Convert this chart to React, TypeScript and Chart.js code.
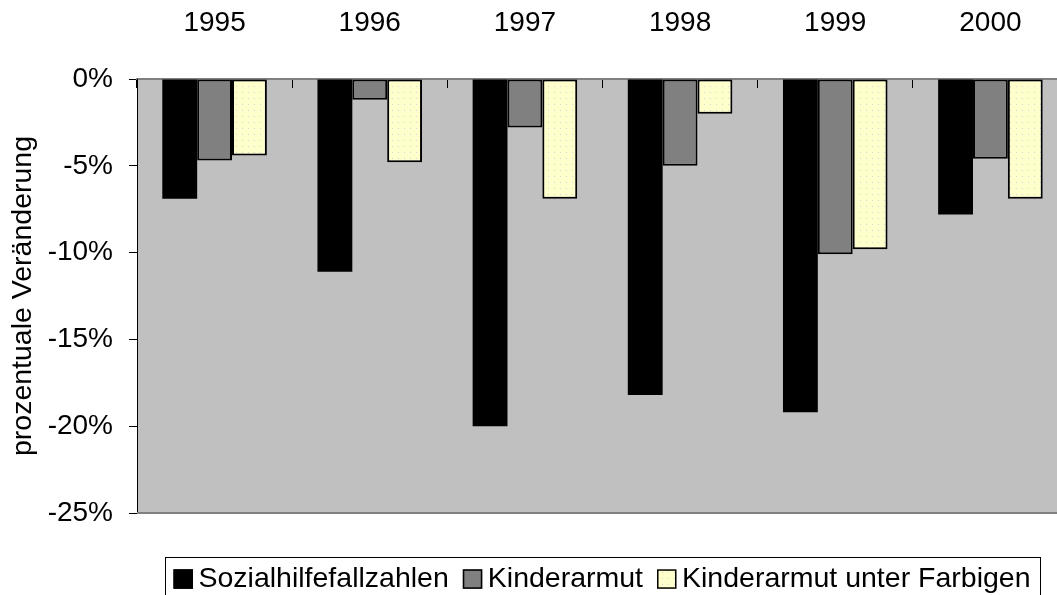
import React, { useEffect, useRef } from 'react';
import { Chart, registerables } from 'chart.js';

Chart.register(...registerables);

const years = ['1995', '1996', '1997', '1998', '1999', '2000'];
const seriesNames = ['Sozialhilfefallzahlen', 'Kinderarmut', 'Kinderarmut unter Farbigen'];
const sozialhilfe = [-6.9, -11.1, -20.0, -18.2, -19.2, -7.8];
const kinderarmut = [-4.7, -1.2, -2.8, -5.0, -10.1, -4.6];
const kinderarmutFarbige = [-4.4, -4.8, -6.9, -2.0, -9.8, -6.9];
const yMin = -25;
const yMax = 0;
const yStep = 5;
const yTitle = 'prozentuale Veränderung';

const FONT = '"Liberation Sans", Arial, Helvetica, sans-serif';

const plotBgPlugin = {
  id: 'plotBg',
  beforeDraw(chart: any) {
    const { ctx, chartArea: ca } = chart;
    ctx.save();
    ctx.fillStyle = '#C0C0C0';
    ctx.fillRect(ca.left, ca.top, ca.right - ca.left, ca.bottom - ca.top);
    ctx.restore();
  },
  afterDatasetsDraw(chart: any) {
    const { ctx, chartArea: ca } = chart;
    ctx.save();
    ctx.strokeStyle = '#808080';
    ctx.lineWidth = 2;
    ctx.beginPath();
    ctx.moveTo(ca.left, ca.bottom);
    ctx.lineTo(ca.right, ca.bottom);
    ctx.stroke();
    ctx.restore();
  },
};

const boxLegendPlugin = {
  id: 'boxLegend',
  afterDraw(chart: any) {
    const { ctx, chartArea: ca } = chart;
    const fontPx = 28.5;
    ctx.save();
    ctx.font = `${fontPx}px ${FONT}`;
    const box = 19.5;
    const gapText = 5.5;
    const gapItem = 14;
    const padL = 8.6;
    const padR = 9.6;
    const items = chart.data.datasets.map((ds: any) => ({
      text: ds.label as string,
      w: ctx.measureText(ds.label).width,
      fill: ds.backgroundColor,
    }));
    let total = padL + padR;
    items.forEach((it: any, i: number) => {
      total += box + gapText + it.w + (i < items.length - 1 ? gapItem : 0);
    });
    const left = (ca.left + ca.right) / 2 - total / 2;
    const top = ca.bottom + 44.3;
    ctx.strokeStyle = '#000';
    ctx.lineWidth = 1;
    ctx.strokeRect(Math.round(left) + 0.5, Math.round(top) + 0.5, Math.round(total), 200);
    const cy = top + 22.3;
    let x = left + padL;
    items.forEach((it: any) => {
      ctx.fillStyle = it.fill;
      ctx.fillRect(x, cy - 10.3, box, box);
      ctx.strokeStyle = '#000';
      ctx.lineWidth = 1.5;
      ctx.strokeRect(x + 0.75, cy - 10.3 + 0.75, box - 1.5, box - 1.5);
      ctx.fillStyle = '#000';
      ctx.textBaseline = 'middle';
      ctx.textAlign = 'left';
      ctx.fillText(it.text, x + box + gapText, cy);
      x += box + gapText + it.w + gapItem;
    });
    ctx.restore();
  },
};

export default function App() {
  const canvasRef = useRef<HTMLCanvasElement | null>(null);

  useEffect(() => {
    const canvas = canvasRef.current;
    if (!canvas) return;
    const mainCtx = canvas.getContext('2d')!;
    const tile = document.createElement('canvas');
    tile.width = 6;
    tile.height = 6;
    const tctx = tile.getContext('2d')!;
    tctx.fillStyle = '#FFFFCC';
    tctx.fillRect(0, 0, 6, 6);
    tctx.fillStyle = '#D4D4DC';
    tctx.fillRect(2, 2, 1, 1);
    const dotted = mainCtx.createPattern(tile, 'repeat') || '#FFFFCC';

    const chart = new Chart(canvas, {
      type: 'bar',
      data: {
        labels: years,
        datasets: [
          {
            label: seriesNames[0],
            data: sozialhilfe,
            backgroundColor: '#000000',
            borderColor: '#000000',
            borderWidth: 0,
            borderSkipped: false,
          },
          {
            label: seriesNames[1],
            data: kinderarmut,
            backgroundColor: '#808080',
            borderColor: '#000000',
            borderWidth: 2,
            borderSkipped: false,
          },
          {
            label: seriesNames[2],
            data: kinderarmutFarbige,
            backgroundColor: dotted as any,
            borderColor: '#000000',
            borderWidth: 2,
            borderSkipped: false,
          },
        ],
      },
      options: {
        responsive: false,
        animation: false,
        devicePixelRatio: 1,
        layout: { padding: { top: 0, left: 0, right: 22, bottom: 87 } },
        datasets: {
          bar: { categoryPercentage: 0.674, barPercentage: 1 },
        },
        plugins: {
          legend: { display: false },
          tooltip: { enabled: false },
        },
        scales: {
          x: {
            type: 'category',
            position: 'top',
            offset: true,
            grid: {
              offset: true,
              drawOnChartArea: false,
              drawTicks: true,
              tickLength: -9,
              color: '#000000',
              lineWidth: 1,
            },
            border: { display: true, color: '#808080', width: 2 },
            ticks: {
              color: '#000000',
              font: { family: FONT, size: 28 },
              padding: 48,
              maxRotation: 0,
              autoSkip: false,
            },
            afterFit: (scale: any) => {
              scale.height = 79;
            },
          },
          y: {
            min: yMin,
            max: yMax,
            grid: {
              drawOnChartArea: false,
              drawTicks: true,
              tickLength: 8,
              color: '#000000',
              lineWidth: 1,
            },
            border: { display: true, color: '#000000', width: 1 },
            ticks: {
              stepSize: yStep,
              color: '#000000',
              font: { family: FONT, size: 28 },
              padding: 16,
              callback: (v: any) => `${v}%`,
            },
            title: {
              display: true,
              text: yTitle,
              color: '#000000',
              font: { family: FONT, size: 28.5 },
              padding: { top: 6, bottom: 0 },
            },
            afterFit: (scale: any) => {
              scale.width = 137;
            },
          },
        },
      },
      plugins: [plotBgPlugin, boxLegendPlugin],
    });
    return () => chart.destroy();
  }, []);

  return (
    <div
      style={{
        position: 'fixed',
        left: 0,
        top: 0,
        width: 1057,
        height: 595,
        overflow: 'hidden',
        background: '#ffffff',
      }}
    >
      <canvas
        ref={canvasRef}
        width={1090}
        height={600}
        style={{ display: 'block', width: 1090, height: 600 }}
      />
    </div>
  );
}
